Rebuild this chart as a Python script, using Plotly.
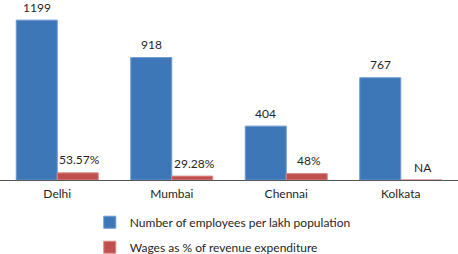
import plotly.graph_objects as go

cities = ["Delhi", "Mumbai", "Chennai", "Kolkata"]
employees = [1199, 918, 404, 767]
wages = [53.57, 29.28, 48, 0]
employee_labels = ["1199", "918", "404", "767"]
wage_labels = ["53.57%", "29.28%", "48%", "NA"]

font = "Lato, 'Open Sans', sans-serif"
txt = "#262626"

fig = go.Figure()
fig.add_trace(go.Bar(
    x=cities, y=employees, name="Number of employees per lakh population",
    marker=dict(color="#3E77B8", line=dict(color="#6C9AD0", width=1)),
    legendgroup="a",
))
fig.add_trace(go.Bar(
    x=cities, y=wages, name="Wages as % of revenue expenditure",
    marker=dict(color="#C0504D", line=dict(color="#D88A88", width=1)),
    legendgroup="b",
))

bar_px = 41
for i, c in enumerate(cities):
    fig.add_annotation(x=c, y=employees[i], text=employee_labels[i], showarrow=False,
                       xshift=-bar_px / 2, yshift=13, yanchor="middle",
                       font=dict(size=12, color=txt, family=font))
    fig.add_annotation(x=c, y=wages[i], text=wage_labels[i], showarrow=False,
                       xshift=bar_px / 2 + 2, yshift=13, yanchor="middle",
                       font=dict(size=12, color=txt, family=font))

fig.update_layout(
    width=458, height=254,
    margin=dict(l=0, r=0, t=0, b=74, autoexpand=False),
    barmode="group", bargap=0.284, bargroupgap=0,
    paper_bgcolor="white", plot_bgcolor="white",
    font=dict(family=font, size=12, color=txt),
    showlegend=True,
    legend=dict(orientation="v", x=0.196, y=-0.154, xanchor="left", yanchor="top",
                font=dict(size=12, color=txt), tracegroupgap=6,
                itemwidth=30),
)
fig.update_xaxes(range=[-0.5, 3.5], automargin=False, showline=True,
                 linecolor="#555555", linewidth=1, ticks="", ticklabelstandoff=3,
                 tickfont=dict(size=12, color=txt), showgrid=False)
fig.update_yaxes(range=[0, 1350], automargin=False, visible=False,
                 showgrid=False, zeroline=False)
fig.write_html("out.html", config={"displayModeBar": False},
               post_script="document.body.style.margin='0';")
